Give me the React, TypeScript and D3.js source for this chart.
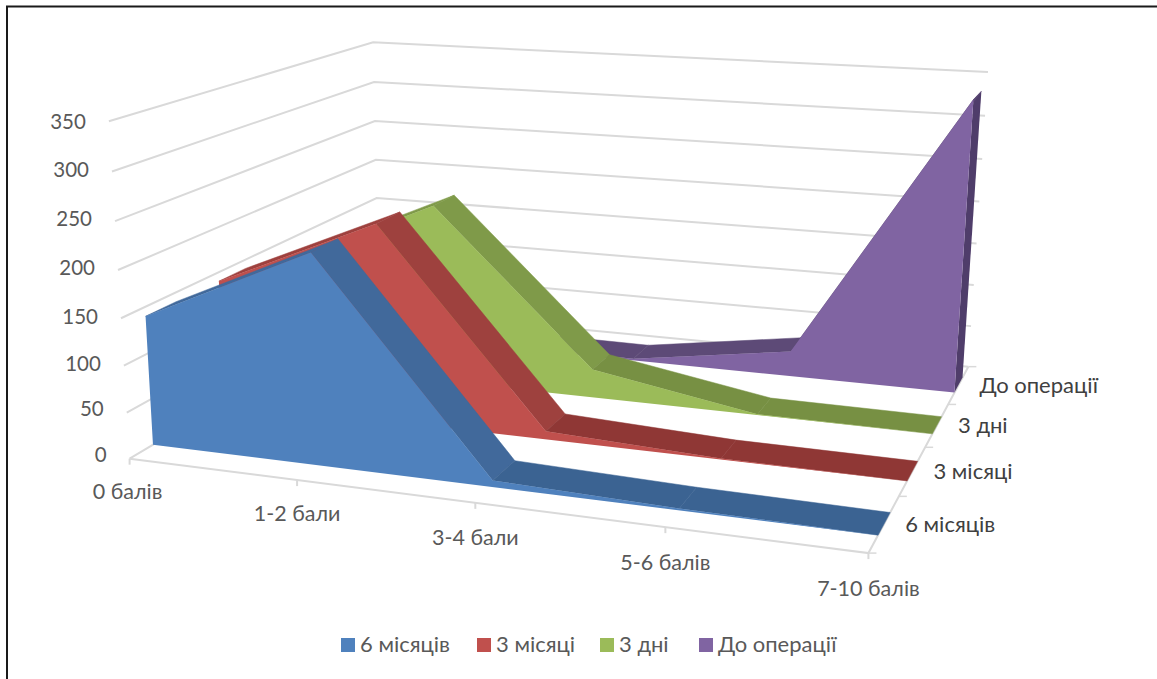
import React from "react";
import * as d3 from "d3";

// Chart values
const categories = ["0 балів", "1-2 бали", "3-4 бали", "5-6 балів", "7-10 балів"];
const seriesNames = ["6 місяців", "3 місяці", "3 дні", "До операції"];
const sixMonths = [140, 223, 7, 2, 0];
const threeMonths = [140, 219, 9, 1, 0];
const threeDays = [125, 207, 33, 1, 0];
const beforeSurgery = [5, 3, 2, 30, 335];
const seriesValues = [sixMonths, threeMonths, threeDays, beforeSurgery];
const valueTicks = [0, 50, 100, 150, 200, 250, 300, 350];

// Colours per series
const frontColors = ["#4F81BD", "#C0504D", "#9BBB59", "#8064A2"];
const slopeColors = ["#41699B", "#9E413E", "#7F9A49", "#5D4A77"];
const flatColors = ["#3B6392", "#8F3735", "#779043", "#5D4A77"];
const sideColors = ["#324F75", "#76302E", "#5F7335", "#4F3D6A"];
const gridColor = "#D9D9D9";

// Ribbon extent inside each depth band
const ribbonFront = 0.3;
const ribbonBack = 0.7;

type P3 = [number, number, number];

// Camera calibration: box position (category, value, depth) to page pixel
const calibration: [P3, [number, number]][] = [
  [[0, 0, 0], [130, 457]],
  [[4, 0, 0], [868, 553]],
  [[0, 0, 4], [379, 311]],
  [[4, 0, 4], [968, 367]],
  [[0, 350, 0], [109, 121]],
  [[0, 350, 4], [373, 42]],
  [[4, 350, 4], [988, 72.7]],
  [[1, 0, 0], [297, 481]],
  [[3, 0, 0], [665, 530]],
  [[4, 0, 1], [899, 495]],
  [[4, 0, 2], [925, 447]],
  [[4, 0, 3], [949, 403]],
];

const valueUnit = d3.scaleLinear().domain([0, 350]).range([0, 1]);

// Least-squares fit of the 3x4 projective camera, last entry fixed at 1
function fitCamera(): number[] {
  const rows: number[][] = [];
  const rhs: number[] = [];
  for (const [[x, v, z], [u, w]] of calibration) {
    const y = valueUnit(v);
    rows.push([x, y, z, 1, 0, 0, 0, 0, -u * x, -u * y, -u * z]);
    rhs.push(u);
    rows.push([0, 0, 0, 0, x, y, z, 1, -w * x, -w * y, -w * z]);
    rhs.push(w);
  }
  const n = 11;
  const m = d3.range(n).map((i) =>
    d3.range(n + 1).map((j) =>
      j < n ? d3.sum(rows, (r) => r[i] * r[j]) : d3.sum(rows, (r, k) => r[i] * rhs[k])
    )
  );
  for (let c = 0; c < n; c++) {
    let best = c;
    for (let r = c + 1; r < n; r++) if (Math.abs(m[r][c]) > Math.abs(m[best][c])) best = r;
    [m[c], m[best]] = [m[best], m[c]];
    for (let r = 0; r < n; r++) {
      if (r === c) continue;
      const f = m[r][c] / m[c][c];
      for (let k = c; k <= n; k++) m[r][k] -= f * m[c][k];
    }
  }
  return d3.range(n).map((i) => m[i][n] / m[i][i]);
}

const cam = fitCamera();

function project(x: number, v: number, z: number): [number, number] {
  const y = valueUnit(v);
  const d = cam[8] * x + cam[9] * y + cam[10] * z + 1;
  return [
    (cam[0] * x + cam[1] * y + cam[2] * z + cam[3]) / d,
    (cam[4] * x + cam[5] * y + cam[6] * z + cam[7]) / d,
  ];
}

const path = d3.line<[number, number]>();
const poly = (pts: [number, number][]) => path(pts) + "Z";

const FONT = "Lato, 'Noto Sans', sans-serif";
const lastX = categories.length - 1;
const lastZ = seriesNames.length;

// Legend layout
const legendSwatchX = [341, 477, 600, 699];

// Fine vertical offsets for the value axis labels
const valueLabelNudge = [-2, -2, 0, 1, 0, 0, 0, 3];

function Ribbon({ index }: { index: number }) {
  const values = seriesValues[index];
  const zf = index + ribbonFront;
  const zb = index + ribbonBack;
  const top = values.map((v, i) => project(i, v, zf));
  const frontFace = [...top, project(lastX, 0, zf), project(0, 0, zf)];
  const segments = d3.pairs(values).map(([a, b], i) => {
    const fill = Math.max(a, b) < 40 ? flatColors[index] : slopeColors[index];
    return {
      fill,
      d: poly([project(i, a, zf), project(i + 1, b, zf), project(i + 1, b, zb), project(i, a, zb)]),
    };
  });
  const last = values[lastX];
  return (
    <g>
      {last > 0 && (
        <path
          d={poly([project(lastX, 0, zf), project(lastX, 0, zb), project(lastX, last, zb), project(lastX, last, zf)])}
          fill={sideColors[index]}
        />
      )}
      {segments.map((s, i) => (
        <path key={i} d={s.d} fill={s.fill} stroke={s.fill} strokeWidth={0.5} />
      ))}
      <path d={poly(frontFace)} fill={frontColors[index]} />
    </g>
  );
}

export default function App() {
  const ribbons = d3.range(seriesNames.length).reverse();
  return (
    <svg
      width={1157}
      height={679}
      style={{ position: "absolute", left: 0, top: 0, display: "block", background: "#fff" }}
      fontFamily={FONT}
    >
      {/* Frame */}
      <path d="M7,679V6.5H1157" fill="none" stroke="#1a1a1a" strokeWidth={2} />

      {/* Walls */}
      {valueTicks.map((v) => {
        const a = project(0, v, 0);
        const b = project(0, v, lastZ);
        const c = project(lastX, v, lastZ);
        return <path key={v} d={path([a, b, c])!} fill="none" stroke={gridColor} strokeWidth={2} />;
      })}

      {/* Floor edges and tick marks */}
      <path
        d={path([project(0, 0, 0), project(lastX, 0, 0), project(lastX, 0, lastZ)])!}
        fill="none"
        stroke={gridColor}
        strokeWidth={2}
      />
      {categories.map((_, i) => {
        const [x, y] = project(i, 0, 0);
        return <line key={i} x1={x} y1={y} x2={x} y2={y + 6} stroke={gridColor} strokeWidth={2} />;
      })}
      {d3.range(lastZ + 1).map((i) => {
        const [x, y] = project(lastX, 0, i);
        return <line key={i} x1={x} y1={y} x2={x + 8} y2={y} stroke={gridColor} strokeWidth={1.5} />;
      })}

      {ribbons.map((i) => (
        <Ribbon key={i} index={i} />
      ))}

      {/* Value axis labels */}
      {valueTicks.map((v, i) => {
        const [x, y] = project(0, v, 0);
        return (
          <text key={v} x={x - 23} y={y + 5 + valueLabelNudge[i]} textAnchor="end" fontSize={20.5} fill="#595959">
            {v}
          </text>
        );
      })}

      {/* Category labels */}
      {categories.map((c, i) => {
        const [x, y] = project(i, 0, 0);
        return (
          <text key={c} x={x - (i === 0 ? 2 : 0)} y={y + 40.5 + i * 0.7} textAnchor="middle" fontSize={21.5} fill="#595959">
            {c}
          </text>
        );
      })}

      {/* Depth labels */}
      {seriesNames.map((s, i) => {
        const [x, y] = project(lastX, 0, i + 0.5);
        return (
          <text key={s} x={x + 21} y={y + 8} fontSize={22} fill="#404040">
            {s}
          </text>
        );
      })}

      {/* Legend */}
      {seriesNames.map((s, i) => (
        <g key={s}>
          <rect x={legendSwatchX[i]} y={638} width={14} height={14} fill={frontColors[i]} />
          <text x={legendSwatchX[i] + 19} y={652} fontSize={22} fill="#595959">
            {s}
          </text>
        </g>
      ))}
    </svg>
  );
}
